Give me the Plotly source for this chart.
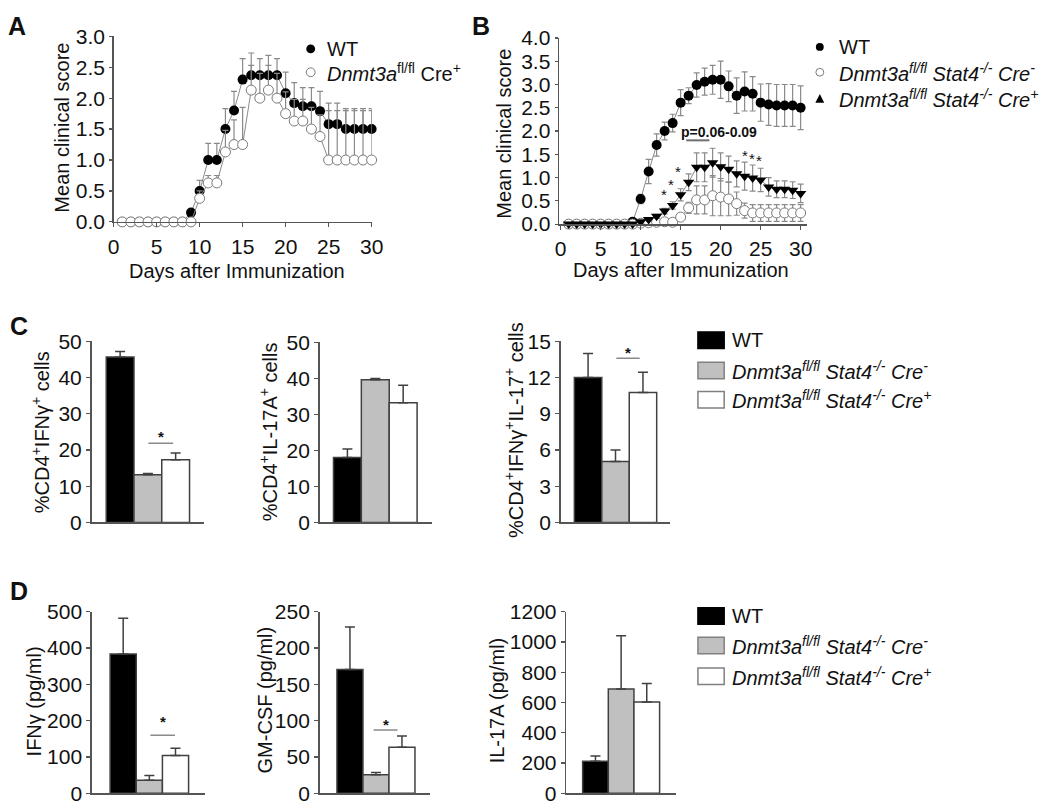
import plotly.graph_objects as go

W, H = 1050, 812

# ---------------- data ----------------
days = list(range(1, 31))

# Panel A
a_wt = [0, 0, 0, 0, 0, 0, 0, 0, 0.15, 0.5, 1.0, 1.0, 1.5, 1.8, 2.3, 2.37, 2.37, 2.37, 2.37,
        2.08, 1.92, 1.87, 1.87, 1.79, 1.58, 1.58, 1.5, 1.5, 1.5, 1.5]
a_wt_err = [0, 0, 0, 0, 0, 0, 0, 0, 0.05, 0.17, 0.27, 0.27, 0.33, 0.31, 0.34, 0.36, 0.27, 0.32,
            0.27, 0.34, 0.33, 0.3, 0.3, 0.32, 0.34, 0.34, 0.33, 0.33, 0.33, 0.33]
a_ko = [0, 0, 0, 0, 0, 0, 0, 0, 0, 0.38, 0.63, 0.63, 1.13, 1.25, 1.25, 2.13, 2.0, 2.13, 2.0,
        1.75, 1.63, 1.63, 1.5, 1.38, 1.0, 1.0, 1.0, 1.0, 1.0, 1.0]
a_ko_err = [0, 0, 0, 0, 0, 0, 0, 0, 0, 0.12, 0.12, 0.12, 0.35, 0.4, 0.6, 0.4, 0.4, 0.4, 0.4,
            0.35, 0.35, 0.35, 0.35, 0.35, 0.8, 0.8, 0.8, 0.8, 0.8, 0.8]

# Panel B
b_wt = [0, 0, 0, 0, 0, 0, 0, 0, 0.05, 0.54, 1.13, 1.70, 2.0, 2.17, 2.61, 2.76, 2.99, 3.06,
        3.1, 3.1, 2.96, 2.76, 2.85, 2.8, 2.61, 2.57, 2.55, 2.55, 2.55, 2.5]
b_wt_err = [0, 0, 0, 0, 0, 0, 0, 0, 0.03, 0.1, 0.26, 0.24, 0.19, 0.19, 0.28, 0.17, 0.26, 0.29,
            0.31, 0.4, 0.33, 0.38, 0.42, 0.37, 0.4, 0.45, 0.45, 0.45, 0.45, 0.47]
b_cm = [0, 0, 0, 0, 0, 0, 0, 0, 0, 0.02, 0.03, 0.04, 0.05, 0.04, 0.15, 0.35, 0.52, 0.52,
        0.61, 0.58, 0.54, 0.44, 0.29, 0.24, 0.24, 0.24, 0.24, 0.24, 0.24, 0.24]
b_cm_err = [0, 0, 0, 0, 0, 0, 0, 0, 0, 0.01, 0.02, 0.03, 0.03, 0.03, 0.07, 0.12, 0.3, 0.3,
            0.43, 0.4, 0.36, 0.25, 0.16, 0.18, 0.18, 0.18, 0.18, 0.18, 0.18, 0.18]
b_cp = [0, 0, 0, 0, 0, 0, 0, 0, 0, 0.05, 0.1, 0.17, 0.28, 0.4, 0.63, 0.9, 1.22, 1.22,
        1.32, 1.23, 1.18, 1.08, 1.03, 0.99, 0.95, 0.8, 0.75, 0.75, 0.73, 0.66]
b_cp_err = [0, 0, 0, 0, 0, 0, 0, 0, 0, 0.02, 0.03, 0.04, 0.06, 0.08, 0.13, 0.18, 0.31, 0.31,
            0.31, 0.3, 0.28, 0.28, 0.3, 0.28, 0.25, 0.2, 0.18, 0.18, 0.18, 0.2]
b_star_x = [12.9, 13.8, 14.7, 23.0, 23.9, 24.8]
b_star_y = [0.73, 0.93, 1.22, 1.55, 1.5, 1.45]
b_p_text = "p=0.06-0.09"
b_p_x, b_p_y = 19.8, 1.97
b_p_line_x = [15.7, 18.6]
b_p_line_y = 1.8

# Panels C and D
groups = ["WT", "Dnmt3a fl/fl Stat4-/- Cre-", "Dnmt3a fl/fl Stat4-/- Cre+"]
c1_vals = [45.7, 13.2, 17.3]
c1_sem = [1.5, 0.3, 1.9]
c2_vals = [18.0, 39.6, 33.2]
c2_sem = [2.4, 0.4, 4.9]
c3_vals = [12.0, 5.04, 10.76]
c3_sem = [2.0, 0.96, 1.69]
d1_vals = [384, 36, 104]
d1_sem = [98, 13, 20]
d2_vals = [170.5, 25.4, 63.4]
d2_sem = [58.5, 3.2, 15.6]
d3_vals = [212, 690, 604]
d3_sem = [34, 351, 122]

# significance marks: (bracket x from, x to, bracket y, star y)
c1_sig = (1.02, 1.91, 21.9, 24.7)
c3_sig = (1.03, 1.88, 13.6, 14.4)
d1_sig = (1.04, 1.98, 160, 209)
d2_sig = (0.91, 1.83, 87, 100)

# ---------------- styling helpers ----------------
FONT = "Liberation Sans, Arial, sans-serif"
AX = "#555555"
GREY_LINE = "#8a8a8a"
BAR_COLORS = ["#000000", "#c0c0c0", "#ffffff"]


def dxx(a, b):
    return [a / W, b / W]


def dyy(top, bottom):
    return [1 - bottom / H, 1 - top / H]


def px(p):
    return p / W


def py(p):
    return 1 - p / H


base_axis = dict(showline=True, linecolor=AX, linewidth=1.5, ticks="outside", ticklen=4,
                 tickwidth=1.2, tickcolor=AX, showgrid=False, zeroline=False,
                 tickfont=dict(family=FONT, size=21, color="#111111"), fixedrange=True)

fig = go.Figure()

# ---- Panel A ----
fig.add_trace(go.Scatter(x=days, y=a_wt, mode="lines+markers", xaxis="x", yaxis="y",
                         line=dict(color=GREY_LINE, width=1),
                         marker=dict(symbol="circle", size=10, color="black", line=dict(width=0)),
                         error_y=dict(type="data", array=a_wt_err, arrayminus=[0] * 30, symmetric=False,
                                      color=GREY_LINE, thickness=1.2, width=3),
                         cliponaxis=False, showlegend=False))
fig.add_trace(go.Scatter(x=days, y=a_ko, mode="lines+markers", xaxis="x", yaxis="y",
                         line=dict(color=GREY_LINE, width=1),
                         marker=dict(symbol="circle", size=10, color="white", line=dict(width=1, color="#7a7a7a")),
                         error_y=dict(type="data", array=a_ko_err, arrayminus=[0] * 30, symmetric=False,
                                      color=GREY_LINE, thickness=1.2, width=3),
                         cliponaxis=False, showlegend=False))

# ---- Panel B ----
fig.add_trace(go.Scatter(x=days, y=b_wt, mode="lines+markers", xaxis="x2", yaxis="y2",
                         line=dict(color=GREY_LINE, width=1),
                         marker=dict(symbol="circle", size=10, color="black", line=dict(width=0)),
                         error_y=dict(type="data", array=b_wt_err, color=GREY_LINE, thickness=1.2, width=3),
                         cliponaxis=False, showlegend=False))
fig.add_trace(go.Scatter(x=days, y=b_cm, mode="lines+markers", xaxis="x2", yaxis="y2",
                         line=dict(color=GREY_LINE, width=1),
                         marker=dict(symbol="circle", size=10, color="white", line=dict(width=1, color="#7a7a7a")),
                         error_y=dict(type="data", array=b_cm_err, color=GREY_LINE, thickness=1.2, width=3),
                         cliponaxis=False, showlegend=False))
fig.add_trace(go.Scatter(x=days, y=b_cp, mode="lines+markers", xaxis="x2", yaxis="y2",
                         line=dict(color=GREY_LINE, width=1),
                         marker=dict(symbol="triangle-down", size=10, color="black", line=dict(width=0)),
                         error_y=dict(type="data", array=b_cp_err, color=GREY_LINE, thickness=1.2, width=3),
                         cliponaxis=False, showlegend=False))

# ---- Bar panels ----
bar_specs = [
    ("x3", "y3", c1_vals, c1_sem),
    ("x4", "y4", c2_vals, c2_sem),
    ("x5", "y5", c3_vals, c3_sem),
    ("x6", "y6", d1_vals, d1_sem),
    ("x7", "y7", d2_vals, d2_sem),
    ("x8", "y8", d3_vals, d3_sem),
]
for xa, ya, vals, sem in bar_specs:
    fig.add_trace(go.Bar(x=groups, y=vals, xaxis=xa, yaxis=ya, width=1,
                         marker=dict(color=BAR_COLORS, line=dict(color="#404040", width=1.5)),
                         error_y=dict(type="data", array=sem, arrayminus=[0, 0, 0], symmetric=False,
                                      color="#404040", thickness=1.5, width=5),
                         cliponaxis=False, showlegend=False))

# ---------------- axes ----------------
layout_axes = {}
# A
layout_axes["xaxis"] = dict(base_axis, domain=dxx(109.5, 372), range=[0, 30], anchor="y",
                            tickvals=[0, 5, 10, 15, 20, 25, 30], ticklabelstandoff=1)
layout_axes["yaxis"] = dict(base_axis, domain=dyy(25, 216), range=[0, 3], anchor="x",
                            tickvals=[0, 0.5, 1, 1.5, 2, 2.5, 3], tickformat=".1f", ticklen=3)
# B
layout_axes["xaxis2"] = dict(base_axis, domain=dxx(562.7, 815), range=[-0.2, 30.8], anchor="y2",
                             tickvals=[0, 5, 10, 15, 20, 25, 30], ticklabelstandoff=1)
layout_axes["yaxis2"] = dict(base_axis, domain=dyy(26.7, 218.3), range=[0, 4], anchor="x2",
                             tickvals=[0, 0.5, 1, 1.5, 2, 2.5, 3, 3.5, 4], tickformat=".1f", ticklen=3)

bar_axes = [
    (3, (87, 201.7), [-1.03, 3.03], (339, 525.3), [0, 50], [0, 10, 20, 30, 40, 50]),
    (4, (319, 433.3), [-1.0, 3.03], (340, 525.3), [0, 50], [0, 10, 20, 30, 40, 50]),
    (5, (564.3, 676), [-1.0, 3.0], (339, 525.3), [0, 15], [0, 3, 6, 9, 12, 15]),
    (6, (87.3, 202), [-1.2, 3.11], (617.3, 804), [0, 500], [0, 100, 200, 300, 400, 500]),
    (7, (319, 431.7), [-1.17, 3.09], (617.3, 804), [0, 250], [0, 50, 100, 150, 200, 250]),
    (8, (570, 681.7), [-1.14, 3.14], (617.3, 804), [0, 1200], [0, 200, 400, 600, 800, 1000, 1200]),
]
for n, xd, xr, yd, yr, tv in bar_axes:
    layout_axes[f"xaxis{n}"] = dict(base_axis, domain=dxx(*xd), range=xr, anchor=f"y{n}",
                                    type="category", showticklabels=False, ticks="")
    layout_axes[f"yaxis{n}"] = dict(base_axis, domain=dyy(*yd), range=yr, anchor=f"x{n}",
                                    tickvals=tv)

# ---------------- annotations & shapes ----------------
ann = []
shapes = []


def text(x, y, t, size=20, angle=0, xanchor="center", bold=False):
    ann.append(dict(x=px(x), y=py(y), xref="paper", yref="paper", text=(f"<b>{t}</b>" if bold else t),
                    showarrow=False, textangle=angle, xanchor=xanchor, yanchor="middle",
                    font=dict(family=FONT, size=size, color="#111111")))


# panel letters
text(11, 14, "A", size=25, bold=True)
text(483, 14, "B", size=25, bold=True)
text(13, 323, "C", size=25, bold=True)
text(13, 596, "D", size=25, bold=True)

# axis titles
text(57, 119, "Mean clinical score", angle=-90)
text(235, 267, "Days after Immunization")
text(507, 125, "Mean clinical score", angle=-90)
text(687, 266, "Days after Immunization")
text(35, 432, "%CD4<sup>+</sup>IFNγ<sup>+</sup> cells", angle=-90)
text(267, 432, "%CD4<sup>+</sup>IL-17A<sup>+</sup> cells", angle=-90)
text(517, 430, "%CD4<sup>+</sup>IFNγ<sup>+</sup>IL-17<sup>+</sup> cells", angle=-90)
text(28, 710, "IFNγ (pg/ml)", angle=-90)
text(263, 708, "GM-CSF (pg/ml)", angle=-90)
text(500, 708, "IL-17A (pg/ml)", angle=-90)

# legend A
shapes.append(dict(type="circle", xref="paper", yref="paper", x0=px(305.5), x1=px(314.5),
                   y0=py(42.5), y1=py(33.5), fillcolor="black", line=dict(width=0)))
shapes.append(dict(type="circle", xref="paper", yref="paper", x0=px(305.5), x1=px(314.5),
                   y0=py(66.5), y1=py(57.5), fillcolor="white", line=dict(width=1, color="#7a7a7a")))
text(325, 38, "WT", xanchor="left")
text(325, 62, "<i>Dnmt3a</i><sup>fl/fl</sup> Cre<sup>+</sup>", xanchor="left")

# legend B
shapes.append(dict(type="circle", xref="paper", yref="paper", x0=px(824), x1=px(832),
                   y0=py(40), y1=py(32), fillcolor="black", line=dict(width=0)))
shapes.append(dict(type="circle", xref="paper", yref="paper", x0=px(824), x1=px(832),
                   y0=py(66), y1=py(58), fillcolor="white", line=dict(width=1, color="#7a7a7a")))
shapes.append(dict(type="path", xref="paper", yref="paper",
                   path=f"M {px(823.5)},{py(93.5)} L {px(832.5)},{py(93.5)} L {px(828)},{py(84.5)} Z",
                   fillcolor="black", line=dict(width=0)))
text(846, 36, "WT", size=20, xanchor="left")
text(846, 62, "<i>Dnmt3a<sup>fl/fl</sup> Stat4<sup>-/-</sup> Cre<sup>-</sup></i>", size=20, xanchor="left")
text(846, 89, "<i>Dnmt3a<sup>fl/fl</sup> Stat4<sup>-/-</sup> Cre<sup>+</sup></i>", size=20, xanchor="left")

# legends C and D (bar legends)
leg_labels = ["WT",
              "<i>Dnmt3a<sup>fl/fl</sup> Stat4<sup>-/-</sup> Cre<sup>-</sup></i>",
              "<i>Dnmt3a<sup>fl/fl</sup> Stat4<sup>-/-</sup> Cre<sup>+</sup></i>"]
for rows in ([337.7, 369, 399], [621.7, 652, 683.5]):
    for yc, lab, col in zip(rows, leg_labels, BAR_COLORS):
        shapes.append(dict(type="rect", xref="paper", yref="paper", x0=px(704), x1=px(730.7),
                           y0=py(yc + 8.5), y1=py(yc - 8.5), fillcolor=col,
                           line=dict(width=1.5, color="#000000" if col == "#000000" else "#808080")))
        text(736.7, yc, lab, xanchor="left")

# B stars and p-value
for sx, sy in zip(b_star_x, b_star_y):
    ann.append(dict(x=sx, y=sy, xref="x2", yref="y2", text="*", showarrow=False, yshift=-4,
                    font=dict(family=FONT, size=15, color="#111111")))
ann.append(dict(x=b_p_x, y=b_p_y, xref="x2", yref="y2", text=f"<b>{b_p_text}</b>", showarrow=False,
                font=dict(family=FONT, size=14, color="#111111")))
shapes.append(dict(type="line", xref="x2", yref="y2", x0=b_p_line_x[0], x1=b_p_line_x[1],
                   y0=b_p_line_y, y1=b_p_line_y, line=dict(color="#707070", width=2)))

# significance brackets for bars
for (xa, ya), (x0, x1, ly, sy) in zip([("x3", "y3"), ("x5", "y5"), ("x6", "y6"), ("x7", "y7")],
                                      [c1_sig, c3_sig, d1_sig, d2_sig]):
    shapes.append(dict(type="line", xref=xa, yref=ya, x0=x0, x1=x1, y0=ly, y1=ly,
                       line=dict(color="#8a8a8a", width=1.5)))
    ann.append(dict(x=(x0 + x1) / 2, y=sy, xref=xa, yref=ya, text="<b>*</b>", showarrow=False, yshift=-4,
                    font=dict(family=FONT, size=15, color="#111111")))

fig.update_layout(width=W, height=H, margin=dict(l=0, r=0, t=0, b=0), autosize=False,
                  paper_bgcolor="white", plot_bgcolor="white", bargap=0, showlegend=False,
                  font=dict(family=FONT, color="#111111"),
                  annotations=ann, shapes=shapes, **layout_axes)

fig.write_html("out.html", config={"displayModeBar": False, "staticPlot": True},
               post_script="document.body.style.margin='0';document.body.style.overflow='hidden';")
